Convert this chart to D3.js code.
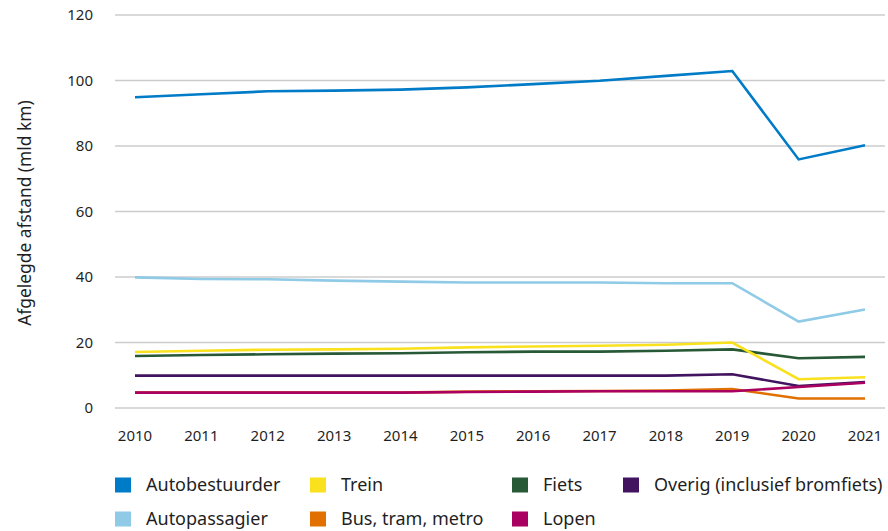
<!DOCTYPE html>
<html><head><meta charset="utf-8">
<script src="https://cdn.jsdelivr.net/npm/d3@7"></script>
<style>body{margin:0;background:#fff}svg{display:block}text{font-family:"Noto Sans",sans-serif;fill:#1f1f1f}</style>
</head><body><svg id="c" width="888" height="531"></svg>
<script>
const years = ["2010","2011","2012","2013","2014","2015","2016","2017","2018","2019","2020","2021"];
const yTicks = [0,20,40,60,80,100,120];
const autobestuurder = [94.9,95.8,96.7,96.9,97.2,97.9,98.9,99.9,101.4,102.9,75.9,80.2];
const autopassagier = [39.9,39.4,39.3,38.9,38.6,38.3,38.3,38.3,38.1,38.1,26.4,30.1];
const trein = [17.1,17.5,17.8,17.9,18.1,18.5,18.8,19.0,19.3,20.0,8.8,9.4];
const bus = [4.7,4.7,4.7,4.7,4.7,5.0,5.1,5.2,5.3,5.8,2.9,2.9];
const fiets = [15.9,16.2,16.4,16.6,16.7,17.0,17.2,17.2,17.5,17.9,15.2,15.6];
const lopen = [4.7,4.7,4.7,4.7,4.7,4.9,5.0,5.1,5.1,5.1,6.4,7.7];
const overig = [9.9,9.9,9.9,9.9,9.9,9.9,9.9,9.9,9.9,10.3,6.7,7.9];
const seriesNames = ["Autobestuurder","Autopassagier","Trein","Bus, tram, metro","Fiets","Lopen","Overig (inclusief bromfiets)"];
const seriesColors = ["#007bc7","#8fcae7","#f9e11e","#e17000","#275937","#a90061","#42145f"];
const seriesValues = [autobestuurder,autopassagier,trein,bus,fiets,lopen,overig];

const svg = d3.select("#c");
const x = d3.scalePoint().domain(years).range([135,865]);
const y = d3.scaleLinear().domain([0,120]).range([408,15]);

// grid
svg.append("g").selectAll("line").data(yTicks).join("line")
  .attr("x1",115).attr("x2",885).attr("y1",d=>y(d)).attr("y2",d=>y(d))
  .attr("stroke","#cccccc").attr("stroke-width",1.3);

// y tick labels
svg.append("g").selectAll("text").data(yTicks).join("text")
  .attr("x",93).attr("y",d=>y(d)).attr("dy","0.35em").attr("text-anchor","end")
  .style("font-size","15px").text(d=>d);

// x labels
svg.append("g").selectAll("text").data(years).join("text")
  .attr("x",d=>x(d)).attr("y",441).attr("text-anchor","middle")
  .style("font-size","15px").text(d=>d);

// y title
svg.append("text").attr("transform","translate(31,213) rotate(-90)")
  .attr("text-anchor","middle").style("font-size","17.4px").text("Afgelegde afstand (mld km)");

// lines (draw order: later on top)
const line = d3.line().x((d,i)=>x(years[i])).y(d=>y(d));
const order = [4,2,6,3,5,1,0];
svg.append("g").selectAll("path").data(order).join("path")
  .attr("d",i=>line(seriesValues[i])).attr("fill","none")
  .attr("stroke",i=>seriesColors[i]).attr("stroke-width",2.6).attr("stroke-linejoin","miter");

// legend
const legendItems = [
  {i:0,x:115,y:485},{i:2,x:310,y:485},{i:4,x:512,y:485},{i:6,x:623,y:485},
  {i:1,x:115,y:519},{i:3,x:310,y:519},{i:5,x:512,y:519}
];
const lg = svg.append("g").selectAll("g").data(legendItems).join("g")
  .attr("transform",d=>`translate(${d.x},${d.y})`);
lg.append("rect").attr("x",0).attr("y",-7.5).attr("width",16).attr("height",15)
  .attr("fill",d=>seriesColors[d.i]);
lg.append("text").attr("x",31).attr("y",0).attr("dy","0.35em")
  .style("font-size","18px").text(d=>seriesNames[d.i]);
</script></body></html>
